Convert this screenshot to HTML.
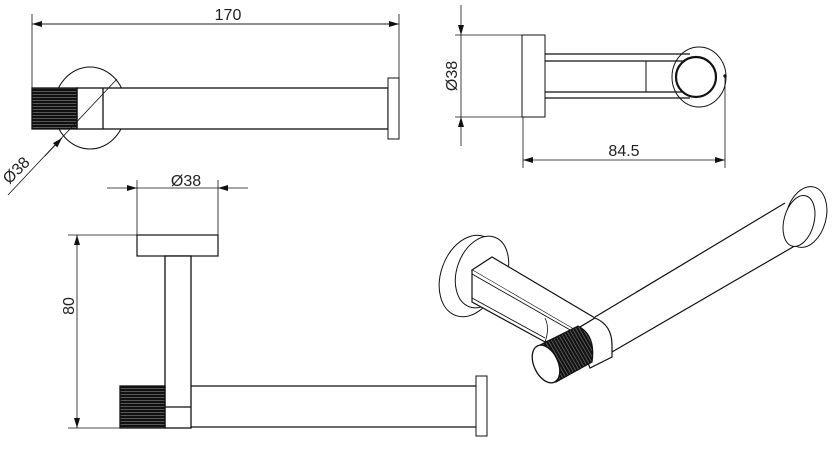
<!DOCTYPE html>
<html><head><meta charset="utf-8"><style>
html,body{margin:0;padding:0;background:#fff;}
svg{display:block;}
text{font-family:"Liberation Sans",sans-serif;fill:#222;}
</style></head><body>
<svg width="835" height="472" viewBox="0 0 835 472" xmlns="http://www.w3.org/2000/svg">
<defs>
<marker id="a" markerWidth="10" markerHeight="6" refX="10" refY="3" orient="auto" markerUnits="userSpaceOnUse"><path d="M0,0 L10,3 L0,6 Z" fill="#111"/></marker>
<pattern id="k" width="3" height="3" patternUnits="userSpaceOnUse"><rect width="3" height="3" fill="#111"/><rect y="1" width="3" height="0.8" fill="#666"/></pattern>
<pattern id="kv" width="3" height="3" patternUnits="userSpaceOnUse" patternTransform="rotate(-30)"><rect width="3" height="3" fill="#111"/><rect x="1" width="0.8" height="3" fill="#666"/></pattern>
</defs>
<g stroke="#111" fill="none" stroke-width="1">
<line x1="32" y1="14" x2="32" y2="88" stroke-width="0.8"/>
<line x1="399" y1="14" x2="399" y2="78" stroke-width="0.8"/>
<line x1="32" y1="24" x2="399" y2="24" stroke-width="0.8" marker-end="url(#a)"/>
<line x1="399" y1="24" x2="32" y2="24" stroke-width="0.8" marker-end="url(#a)"/>
<ellipse cx="90" cy="108" rx="36" ry="41"/>
<rect x="77" y="88" width="311" height="41" fill="#fff" stroke-width="1.3"/>
<line x1="103" y1="88" x2="103" y2="129" stroke-width="1.3"/>
<rect x="32" y="88" width="45" height="41" fill="url(#k)" stroke-width="1.3"/>
<rect x="388" y="78" width="11" height="61" fill="#fff"/>
<line x1="8" y1="195" x2="117" y2="79" stroke-width="0.8"/>
<line x1="45" y1="156" x2="62" y2="138" stroke-width="0.8" marker-end="url(#a)"/>
<line x1="137" y1="180" x2="137" y2="256" stroke-width="0.8"/>
<line x1="218" y1="180" x2="218" y2="256" stroke-width="0.8"/>
<line x1="107" y1="188" x2="137" y2="188" stroke-width="0.8" marker-end="url(#a)"/>
<line x1="248" y1="188" x2="218" y2="188" stroke-width="0.8" marker-end="url(#a)"/>
<line x1="137" y1="188" x2="218" y2="188" stroke-width="0.8"/>
<line x1="68" y1="235" x2="137" y2="235" stroke-width="0.8"/>
<line x1="68" y1="428" x2="120" y2="428" stroke-width="0.8"/>
<line x1="77" y1="330" x2="77" y2="235" stroke-width="0.8" marker-end="url(#a)"/>
<line x1="77" y1="330" x2="77" y2="428" stroke-width="0.8" marker-end="url(#a)"/>
<rect x="137" y="235" width="81" height="21" fill="#fff" stroke-width="1.2"/>
<rect x="165" y="256" width="26" height="172" fill="#fff" stroke-width="1.3"/>
<line x1="165" y1="407" x2="191" y2="407" stroke-width="1.3"/>
<rect x="120" y="386" width="45" height="42" fill="url(#k)" stroke-width="1.3"/>
<line x1="191" y1="386" x2="476" y2="386" stroke-width="1.3"/>
<line x1="191" y1="427" x2="476" y2="427" stroke-width="1.3"/>
<rect x="476" y="376" width="11" height="60" fill="#fff"/>
<line x1="461" y1="5" x2="461" y2="35" stroke-width="0.8" marker-end="url(#a)"/>
<line x1="461" y1="146" x2="461" y2="117" stroke-width="0.8" marker-end="url(#a)"/>
<line x1="461" y1="35" x2="461" y2="117" stroke-width="0.8"/>
<line x1="455" y1="35" x2="522" y2="35" stroke-width="0.8"/>
<line x1="455" y1="117" x2="522" y2="117" stroke-width="0.8"/>
<rect x="522" y="35" width="23" height="82" fill="#fff"/>
<ellipse cx="699" cy="77" rx="27" ry="30"/>
<path d="M545,54 L690,54 M545,61 L690,61 M545,92 L690,92 M545,98 L690,98" stroke-width="1.3"/>
<line x1="545" y1="54" x2="545" y2="98"/>
<line x1="646" y1="61" x2="646" y2="92"/>
<circle cx="696" cy="77" r="20" fill="#fff" stroke-width="2.2"/>
<circle cx="725" cy="76" r="1.2" fill="#111"/>
<line x1="523" y1="117" x2="523" y2="168" stroke-width="0.8"/>
<line x1="725" y1="76" x2="725" y2="168" stroke-width="0.8"/>
<line x1="624" y1="160" x2="523" y2="160" stroke-width="0.8" marker-end="url(#a)"/>
<line x1="624" y1="160" x2="725" y2="160" stroke-width="0.8" marker-end="url(#a)"/>
<ellipse cx="470" cy="276" rx="29" ry="42" transform="rotate(20 470 276)" fill="#fff"/>
<ellipse cx="482" cy="272" rx="25" ry="37" transform="rotate(20 482 272)" fill="#fff"/>
<path d="M472,270 L492,257 L595,318 L575,330 Z" fill="#fff" stroke-width="1.2"/>
<path d="M472,270 L472,302 L545,342 L575,330" fill="#fff" stroke-width="1.2"/>
<path d="M472,274 L572,331 M472,298 L545,338" stroke-width="0.9"/>
<path d="M545,318 Q550,328 545,342" stroke-width="0.8"/>
<path d="M595,317 L785,203 L805,238 L593,363 Z" fill="#fff" stroke="none"/>
<line x1="595" y1="317" x2="785" y2="203" stroke-width="1.2"/>
<line x1="593" y1="363" x2="805" y2="240" stroke-width="1.2"/>
<ellipse cx="806" cy="217" rx="20" ry="31" transform="rotate(15 806 217)" fill="#fff"/>
<ellipse cx="799" cy="221" rx="15" ry="26" transform="rotate(15 799 221)" fill="#fff"/>
<path d="M575,330 L595,318 Q612,325 612,345 L612,357 L590,368 Z" fill="#fff" stroke-width="1.2"/>
<path d="M538,346 L578,326 Q596,335 592,362 L556,382 Z" fill="url(#kv)" stroke-width="1.2"/>
<ellipse cx="546" cy="364" rx="12" ry="20" transform="rotate(-25 546 364)" fill="#fff" stroke-width="1.3"/>
</g>
<text x="228" y="20" font-size="16" text-anchor="middle">170</text>
<text x="186" y="186" font-size="16" text-anchor="middle">Ø38</text>
<text transform="translate(20,174) rotate(-45)" font-size="16" text-anchor="middle">Ø38</text>
<text transform="translate(74,306) rotate(-90)" font-size="16" text-anchor="middle">80</text>
<text transform="translate(457,76) rotate(-90)" font-size="16" text-anchor="middle">Ø38</text>
<text x="624" y="156" font-size="16" text-anchor="middle">84.5</text>
</svg>
</body></html>
